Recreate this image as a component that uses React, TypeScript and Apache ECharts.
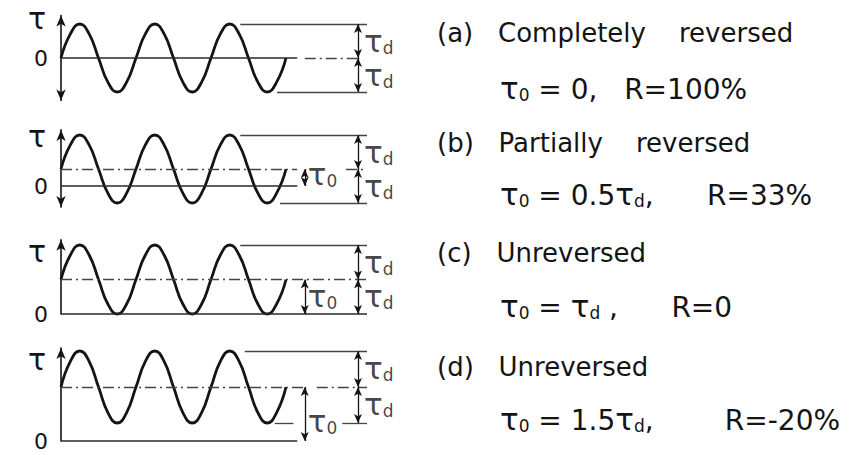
import { useEffect, useRef } from 'react';
import * as echarts from 'echarts';

// ---- data ----
const panelKeys = ['a', 'b', 'c', 'd'];
const panelTitles = ['(a)   Completely    reversed', '(b)   Partially    reversed', '(c)   Unreversed', '(d)   Unreversed'];
const meanStress = [0, 0.5, 1, 1.5]; // τ0 in units of τd
const amplitude = [1, 1, 1, 1]; // τd
const tau0Values = ['0', '0.5', '', '1.5']; // '' means τ0 = τd
const ratioTexts = ['R=100%', 'R=33%', 'R=0', 'R=-20%'];
// wave sampled every 1/8 cycle over 3 cycles (values read from the drawn sinusoid)
const wavePhase = [0, 0.125, 0.25, 0.375, 0.5, 0.625, 0.75, 0.875, 1, 1.125, 1.25, 1.375, 1.5, 1.625, 1.75, 1.875, 2, 2.125, 2.25, 2.375, 2.5, 2.625, 2.75, 2.875, 3];
const unitWave = [0, 0.71, 1, 0.71, 0, -0.71, -1, -0.71, 0, 0.71, 1, 0.71, 0, -0.71, -1, -0.71, 0, 0.71, 1, 0.71, 0, -0.71, -1, -0.71, 0];

// ---- layout (positions in px or data units, not data) ----
const layout = [
  { top: 15.5, height: 85, yMin: -1.25, yMax: 1.25, both: true, zeroEnd: 3.15, mean: [[3.25, 3.96]], topRef: [[2.39, 4.08]], botRef: [[2.88, 4.08]], t0y: 0, nameGap: -2.5, gap: 3 },
  { top: 129.9, height: 77.2, yMin: -0.62, yMax: 1.65, both: true, zeroEnd: 3.15, mean: [[0, 3.15], [3.8, 4.08]], topRef: [[2.39, 4.08]], botRef: [[2.92, 4.08]], t0y: 0.33, nameGap: -6.5, gap: 6 },
  { top: 239.8, height: 74.2, yMin: 0, yMax: 2.15, both: false, zeroEnd: 4.08, mean: [[0, 4.08]], topRef: [[2.39, 4.08]], botRef: [], t0y: 0.5, nameGap: -11.5, gap: 6 },
  { top: 348.1, height: 92.9, yMin: 0, yMax: 2.58, both: false, zeroEnd: 3.15, mean: [[0, 3.25], [3.41, 4.08]], topRef: [[2.45, 4.08]], botRef: [[2.85, 3.1], [3.75, 4.08]], t0y: 0.55, nameGap: -11.5, gap: 8 },
];
const title1Y = [33, 143, 253, 367];
const title2Y = [87, 193, 305, 418];

const INK = '#141414';
const GREY = '#454545';
const FONT = 'DejaVu Sans';
const DIM_X = 3.96;
const T0_X = 3.25;

const richTau = {
  t: { fontSize: 31, fontFamily: FONT, color: INK, lineHeight: 30, verticalAlign: 'bottom' },
  s: { fontSize: 17, fontFamily: FONT, color: INK, lineHeight: 24, verticalAlign: 'bottom' },
};

function seg(x1: number, y1: number, x2: number, y2: number, style: any, arrows = false) {
  const sym = arrows ? 'arrow' : 'none';
  return [
    { coord: [x1, y1], lineStyle: style, symbol: sym, symbolSize: [6, 9] },
    { coord: [x2, y2], symbol: sym, symbolSize: [6, 9] },
  ];
}

function buildOption() {
  const grid: any[] = [];
  const xAxis: any[] = [];
  const yAxis: any[] = [];
  const series: any[] = [];
  const graphic: any[] = [];
  panelKeys.forEach((key, i) => {
    const L = layout[i];
    const m = meanStress[i];
    const A = amplitude[i];
    grid.push({ left: 61, width: 306, top: L.top, height: L.height });
    xAxis.push({ gridIndex: i, type: 'value', min: 0, max: 4.08, show: false });
    yAxis.push({
      gridIndex: i, type: 'value', min: L.yMin, max: L.yMax,
      axisLine: { show: true, onZero: false, symbol: L.both ? ['arrow', 'arrow'] : ['none', 'arrow'], symbolSize: [7, 11], lineStyle: { color: INK, width: 1.6 } },
      axisTick: { show: false }, splitLine: { show: false },
      axisLabel: {
        customValues: [0], formatter: () => '0', fontSize: 22, fontFamily: FONT, color: INK, margin: 13,
        verticalAlign: 'middle', padding: [4, 0, 0, 0],
      },
      name: 'τ', nameLocation: 'end', nameGap: L.nameGap,
      nameTextStyle: { fontSize: 30, fontFamily: FONT, color: INK, align: 'right', verticalAlign: 'middle', padding: [0, 15, 0, 0] },
    });
    const thin = { color: GREY, width: 1.3, type: 'solid' };
    const zero = { color: '#2a2a2a', width: 1.6, type: 'solid' };
    const dashDot = { color: GREY, width: 1.3, type: [11, 4, 2, 4] };
    const dim = { color: INK, width: 1.3, type: 'solid' };
    const lines: any[] = [];
    lines.push(seg(0, 0, L.zeroEnd, 0, zero));
    L.mean.forEach(([a, b]) => lines.push(seg(a, m, b, m, dashDot)));
    L.topRef.forEach(([a, b]) => lines.push(seg(a, m + A, b, m + A, thin)));
    L.botRef.forEach(([a, b]) => lines.push(seg(a, m - A, b, m - A, thin)));
    lines.push(seg(DIM_X, m, DIM_X, m + A, dim, true));
    lines.push(seg(DIM_X, m - A, DIM_X, m, dim, true));
    if (m > 0) lines.push(seg(T0_X, 0, T0_X, m, dim, true));
    series.push({
      type: 'line', name: 'wave-' + key, xAxisIndex: i, yAxisIndex: i,
      data: wavePhase.map((p, k) => [p, m + A * unitWave[k]]),
      smooth: 0.5, symbol: 'none', clip: false,
      lineStyle: { color: INK, width: 2.8 },
      markLine: { silent: true, animation: false, label: { show: false }, data: lines },
      z: 3,
    });
    const labelPts: any[] = [
      { value: [DIM_X, m + A / 2], label: { formatter: '{t|τ}{s|d}' } },
      { value: [DIM_X, m - A / 2], label: { formatter: '{t|τ}{s|d}' } },
    ];
    if (m > 0) labelPts.push({ value: [T0_X, L.t0y], label: { formatter: '{t|τ}{s|0}', distance: 3 } });
    series.push({
      type: 'scatter', name: 'labels-' + key, xAxisIndex: i, yAxisIndex: i, symbolSize: 0, clip: false, silent: true,
      data: labelPts,
      label: { show: true, position: 'right', distance: 6, color: INK, rich: richTau },
    });

    graphic.push({
      type: 'text', x: 437, y: title1Y[i],
      style: { text: panelTitles[i], fontSize: 26, fontFamily: FONT, fill: INK, verticalAlign: 'middle' },
    });
    const t0 = tau0Values[i];
    const sp = ' '.repeat(L.gap);
    let line2: string;
    if (t0 === '0') line2 = `{t|τ}{s|0}{n| = 0,${sp}${ratioTexts[i]}}`;
    else if (t0 === '') line2 = `{t|τ}{s|0}{n| = }{t|τ}{s|d}{n| ,${sp}${ratioTexts[i]}}`;
    else line2 = `{t|τ}{s|0}{n| = ${t0}}{t|τ}{s|d}{n|,${sp}${ratioTexts[i]}}`;
    graphic.push({
      type: 'text', x: 500, y: title2Y[i],
      style: { text: line2, fontSize: 27, fontFamily: FONT, fill: INK, verticalAlign: 'middle', rich: {
        t: { fontSize: 31, fontFamily: FONT, fill: INK, lineHeight: 32, verticalAlign: 'bottom' },
        s: { fontSize: 17, fontFamily: FONT, fill: INK, lineHeight: 24, verticalAlign: 'bottom' },
        n: { fontSize: 28, fontFamily: FONT, fill: INK, lineHeight: 32, verticalAlign: 'bottom' },
      } },
    });
  });
  return { animation: false, backgroundColor: '#ffffff', grid, xAxis, yAxis, series, graphic };
}

export default function App() {
  const ref = useRef<HTMLDivElement>(null);
  useEffect(() => {
    if (!ref.current) return;
    const chart = echarts.init(ref.current, undefined, { renderer: 'svg' });
    chart.setOption(buildOption() as any);
    return () => chart.dispose();
  }, []);
  return <div ref={ref} style={{ position: 'fixed', left: 0, top: 0, width: 849, height: 455 }} />;
}
